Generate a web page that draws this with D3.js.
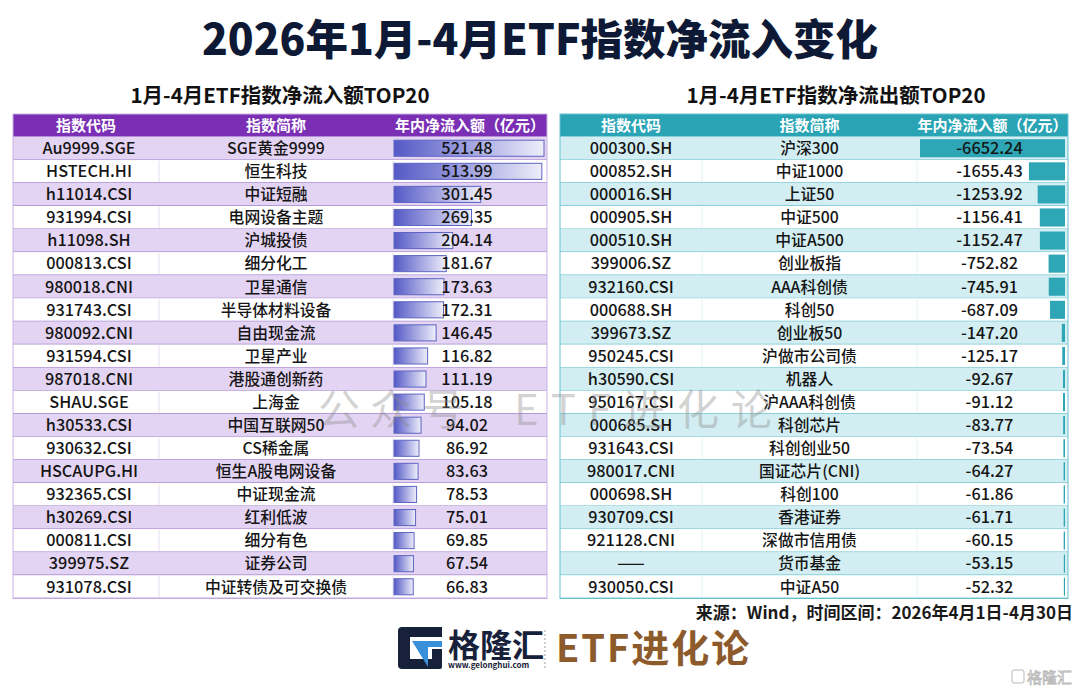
<!DOCTYPE html>
<html>
<head>
<meta charset="utf-8">
<script src="https://cdn.jsdelivr.net/npm/d3@7"></script>
<style>
  body { margin: 0; background: #fff; }
  svg { display: block; font-family: "Noto Sans CJK SC", "Noto Sans", sans-serif; }
</style>
</head>
<body>
<div id="chart"></div>
<script>
// inflow top 20
const inCodes = ["Au9999.SGE", "HSTECH.HI", "h11014.CSI", "931994.CSI", "h11098.SH", "000813.CSI", "980018.CNI", "931743.CSI", "980092.CNI", "931594.CSI",
  "987018.CNI", "SHAU.SGE", "h30533.CSI", "930632.CSI", "HSCAUPG.HI", "932365.CSI", "h30269.CSI", "000811.CSI", "399975.SZ", "931078.CSI"];
const inNames = ["SGE黄金9999", "恒生科技", "中证短融", "电网设备主题", "沪城投债", "细分化工", "卫星通信", "半导体材料设备", "自由现金流", "卫星产业",
  "港股通创新药", "上海金", "中国互联网50", "CS稀金属", "恒生A股电网设备", "中证现金流", "红利低波", "细分有色", "证券公司", "中证转债及可交换债"];
const inValues = [521.48, 513.99, 301.45, 269.35, 204.14, 181.67, 173.63, 172.31, 146.45, 116.82,
  111.19, 105.18, 94.02, 86.92, 83.63, 78.53, 75.01, 69.85, 67.54, 66.83];

// outflow top 20
const outCodes = ["000300.SH", "000852.SH", "000016.SH", "000905.SH", "000510.SH", "399006.SZ", "932160.CSI", "000688.SH", "399673.SZ", "950245.CSI",
  "h30590.CSI", "950167.CSI", "000685.SH", "931643.CSI", "980017.CNI", "000698.SH", "930709.CSI", "921128.CNI", "——", "930050.CSI"];
const outNames = ["沪深300", "中证1000", "上证50", "中证500", "中证A500", "创业板指", "AAA科创债", "科创50", "创业板50", "沪做市公司债",
  "机器人", "沪AAA科创债", "科创芯片", "科创创业50", "国证芯片(CNI)", "科创100", "香港证券", "深做市信用债", "货币基金", "中证A50"];
const outValues = [-6652.24, -1655.43, -1253.92, -1156.41, -1152.47, -752.82, -745.91, -687.09, -147.20, -125.17,
  -92.67, -91.12, -83.77, -73.54, -64.27, -61.86, -61.71, -60.15, -53.15, -52.32];

const headers = ["指数代码", "指数简称", "年内净流入额（亿元）"];

const width = 1080, height = 694;
const headTop = 114, rowTop = 136.7, rowBottom = 598.3;

const svg = d3.select("#chart").append("svg")
    .attr("width", width)
    .attr("height", height);

const defs = svg.append("defs");
const grad = defs.append("linearGradient").attr("id", "inBar");
grad.append("stop").attr("offset", "0%").attr("stop-color", "#5459c6");
grad.append("stop").attr("offset", "100%").attr("stop-color", "#eeeefa");

// titles
svg.append("text")
    .attr("x", width / 2).attr("y", 55)
    .attr("text-anchor", "middle")
    .attr("font-size", 42.5).attr("font-weight", 900)
    .attr("fill", "#0e1a35")
    .text("2026年1月-4月ETF指数净流入变化");

const y = d3.scaleBand().domain(d3.range(20)).range([rowTop, rowBottom]);

function drawTable(opt) {
  const g = svg.append("g");
  const [x0, x1, x2, x3] = opt.cols;

  g.append("text")
      .attr("x", opt.titleX).attr("y", 103)
      .attr("text-anchor", "middle")
      .attr("font-size", 20.5).attr("font-weight", 700)
      .attr("fill", "#111")
      .text(opt.title);

  // header
  g.append("rect")
      .attr("x", x0).attr("y", headTop)
      .attr("width", x3 - x0).attr("height", rowTop - headTop)
      .attr("fill", opt.headColor);
  g.selectAll(".hd").data(headers).join("text")
      .attr("x", (d, i) => (opt.cols[i] + opt.cols[i + 1]) / 2)
      .attr("y", (headTop + rowTop) / 2 + 5.5)
      .attr("text-anchor", "middle")
      .attr("font-size", 15).attr("font-weight", 700)
      .attr("fill", "#fff")
      .text(d => d);

  const rows = g.selectAll(".row").data(opt.values).join("g")
      .attr("transform", (d, i) => `translate(0,${y(i)})`);

  rows.append("rect")
      .attr("x", x0).attr("width", x3 - x0)
      .attr("height", y.bandwidth())
      .attr("fill", (d, i) => i % 2 === 0 ? opt.stripe : "#fff");

  // faint column dividers
  rows.filter((d, i) => i % 2 === 1).selectAll(".vd").data([x1, x2]).join("line")
      .attr("x1", d => d).attr("x2", d => d)
      .attr("y1", 1).attr("y2", y.bandwidth() - 1)
      .attr("stroke", opt.faint).attr("stroke-width", 1);

  rows.append("line")
      .attr("x1", x0).attr("x2", x3)
      .attr("y1", y.bandwidth()).attr("y2", y.bandwidth())
      .attr("stroke", opt.line).attr("stroke-width", 1.2);

  opt.drawBars(rows);

  rows.append("text")
      .attr("x", (x0 + x1) / 2 + opt.codeShift).attr("y", y.bandwidth() / 2 + 5.8)
      .attr("text-anchor", "middle").attr("font-size", 16.3).attr("font-weight", 500)
      .attr("fill", "#151515")
      .text((d, i) => opt.codes[i]);
  rows.append("text")
      .attr("x", (x1 + x2) / 2).attr("y", y.bandwidth() / 2 + 5.8)
      .attr("text-anchor", "middle").attr("font-size", 15.8).attr("font-weight", 500)
      .attr("fill", "#151515")
      .text((d, i) => opt.names[i]);
  rows.append("text")
      .attr("x", (x2 + x3) / 2 - 3).attr("y", y.bandwidth() / 2 + 5.8)
      .attr("text-anchor", "middle").attr("font-size", 16.3).attr("font-weight", 500)
      .attr("fill", "#151515")
      .text(d => d.toFixed(2));

  // outer border
  g.append("rect")
      .attr("x", x0).attr("y", headTop)
      .attr("width", x3 - x0).attr("height", rowBottom - headTop)
      .attr("fill", "none").attr("stroke", opt.border).attr("stroke-width", 1);
}

// left: inflow
const xIn = d3.scaleLinear().domain([0, d3.max(inValues)]).range([0, 150]);
drawTable({
  title: "1月-4月ETF指数净流入额TOP20", titleX: 280,
  cols: [13, 159, 393, 547],
  values: inValues, codes: inCodes, names: inNames,
  headColor: "#7a2fb4", stripe: "#e4d4f3", line: "#9c7dcb", faint: "#e6dcef", border: "#c9b4e2",
  codeShift: 3,
  drawBars: rows => rows.append("rect")
      .attr("x", 394).attr("y", 3.5)
      .attr("width", d => xIn(d)).attr("height", y.bandwidth() - 7)
      .attr("fill", "url(#inBar)")
      .attr("stroke", "#5d64c2").attr("stroke-width", 1)
});

// right: outflow
const xOut = d3.scaleLinear().domain([0, d3.max(outValues, d => -d)]).range([0, 145]);
drawTable({
  title: "1月-4月ETF指数净流出额TOP20", titleX: 836,
  cols: [560, 702, 917, 1068],
  values: outValues, codes: outCodes, names: outNames,
  headColor: "#2aa4b5", stripe: "#d3eef2", line: "#66c2ce", faint: "#e3f2f4", border: "#66c2ce",
  codeShift: 0,
  drawBars: rows => rows.append("rect")
      .attr("x", d => 1065 - xOut(-d)).attr("y", 2.5)
      .attr("width", d => xOut(-d)).attr("height", y.bandwidth() - 5)
      .attr("fill", "#2ea6b6")
});

// watermark
const wm = svg.append("g").attr("fill", "#8a8a8a").attr("fill-opacity", 0.38)
    .attr("font-size", 42).attr("font-weight", 400);
wm.append("text").attr("x", 318).attr("y", 425).attr("letter-spacing", 10).text("公众号");
wm.append("text").attr("x", 514).attr("y", 425).attr("letter-spacing", 12).text("ETF进化论");

// source
svg.append("text")
    .attr("x", 1073).attr("y", 619)
    .attr("text-anchor", "end")
    .attr("font-size", 17).attr("font-weight", 700)
    .attr("fill", "#1a1a1a")
    .text("来源：Wind，时间区间：2026年4月1日-4月30日");

// footer logo
const logo = svg.append("g").attr("transform", "translate(398,627)");
logo.append("path")
    .attr("d", "M4,0 H44 V10 H12 V32 H34 V22 H44 V40 Q44,42 42,42 H4 Q0,42 0,38 V4 Q0,0 4,0 Z")
    .attr("fill", "#17213a");
logo.append("path")
    .attr("d", "M14,14 H44 V20 H30 V40 Z")
    .attr("fill", "#3a8fd9");
logo.append("text")
    .attr("x", 50).attr("y", 30)
    .attr("font-size", 32).attr("font-weight", 700)
    .attr("fill", "#17213a")
    .text("格隆汇");
logo.append("text")
    .attr("x", 50).attr("y", 41)
    .attr("font-size", 8).attr("font-weight", 700)
    .attr("fill", "#17213a")
    .text("www.gelonghui.com");
svg.append("line")
    .attr("x1", 545).attr("x2", 545).attr("y1", 630).attr("y2", 670)
    .attr("stroke", "#9aa0aa").attr("stroke-dasharray", "2,2");
svg.append("text")
    .attr("x", 556).attr("y", 662)
    .attr("font-size", 38).attr("font-weight", 700)
    .attr("letter-spacing", 2)
    .attr("fill", "#8d5a2c")
    .text("ETF进化论");

// corner mark
const cm = svg.append("g").attr("fill", "none").attr("stroke", "#b8b8b8");
cm.append("rect").attr("x", 1012).attr("y", 670).attr("width", 12).attr("height", 13).attr("rx", 2);
svg.append("text")
    .attr("x", 1027).attr("y", 683)
    .attr("font-size", 15).attr("fill", "none")
    .attr("stroke", "#b8b8b8").attr("stroke-width", 0.8)
    .text("格隆汇");
</script>
</body>
</html>
